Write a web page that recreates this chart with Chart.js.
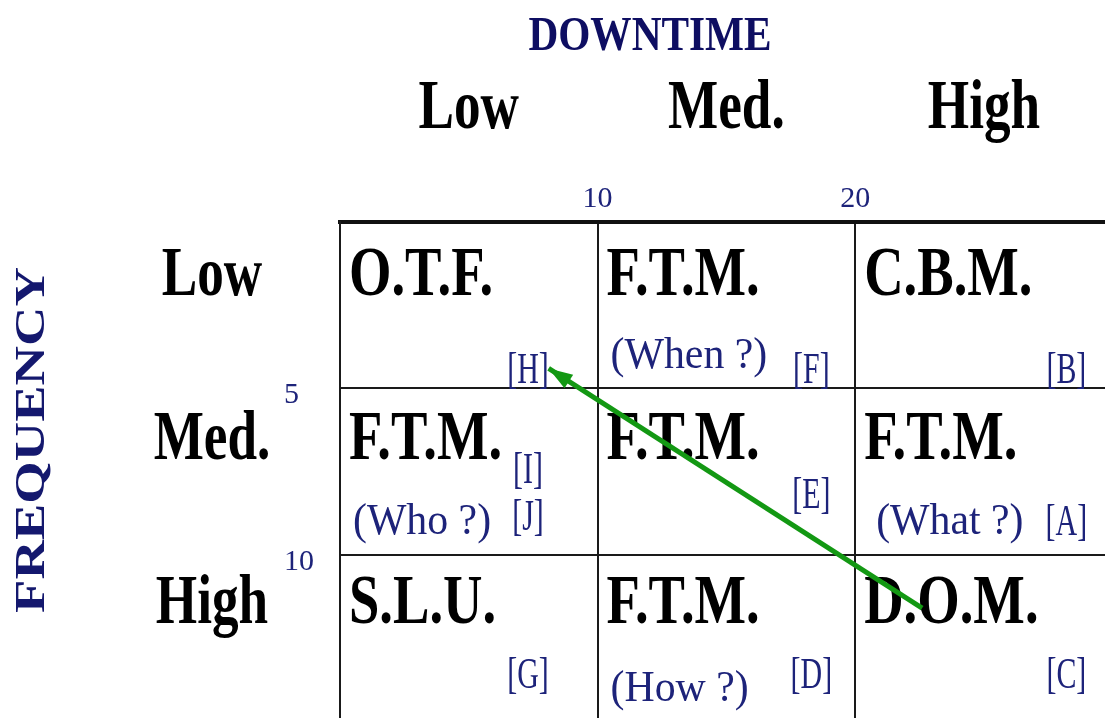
<!DOCTYPE html>
<html>
<head>
<meta charset="utf-8">
<script src="https://cdn.jsdelivr.net/npm/chart.js@4.4.7/dist/chart.umd.min.js"></script>
<style>
  html, body { margin: 0; padding: 0; background: #fff; }
  #wrap { width: 1105px; height: 718px; position: relative; }
</style>
</head>
<body>
<div id="wrap"><canvas id="grid"></canvas></div>
<script>
// Decision making grid: downtime (columns) vs frequency (rows)
const xTitle = 'DOWNTIME';
const yTitle = 'FREQUENCY';
const colLabels = ['Low', 'Med.', 'High'];
const rowLabels = ['Low', 'Med.', 'High'];
const xTicks = [10, 20];
const yTicks = [5, 10];
const cellActions = [
    ['O.T.F.', 'F.T.M.', 'C.B.M.'],
    ['F.T.M.', 'F.T.M.', 'F.T.M.'],
    ['S.L.U.', 'F.T.M.', 'D.O.M.']
];
const cellQuestions = [
    ['', '(When ?)', ''],
    ['(Who ?)', '', '(What ?)'],
    ['', '(How ?)', '']
];
const cellCodes = [
    [['[H]'], ['[F]'], ['[B]']],
    [['[I]', '[J]'], ['[E]'], ['[A]']],
    [['[G]'], ['[D]'], ['[C]']]
];
// movement of machine H from D.O.M. towards O.T.F. (downtime, frequency)
const arrowX = [22.6, 8.1];
const arrowY = [11.6, 4.4];

const NAVY = '#1d237a';
const GREEN = '#139813';
const SERIF = "'Liberation Serif', 'Times New Roman', serif";

function txt(ctx, s, x, y, font, color, align, sx) {
    ctx.save();
    ctx.translate(x, y);
    ctx.scale(sx, 1);
    ctx.font = font;
    ctx.fillStyle = color;
    ctx.textAlign = align;
    ctx.textBaseline = 'alphabetic';
    ctx.fillText(s, 0, 0);
    ctx.restore();
}

const gridText = {
    id: 'gridText',
    beforeDatasetsDraw(chart) {
        const ctx = chart.ctx;
        const xs = chart.scales.x, ys = chart.scales.y;
        const cx = [0, 10, 20, 30].map(v => xs.getPixelForValue(v));
        const ry = [0, 5, 10, 15].map(v => ys.getPixelForValue(v));
        const bold = 'bold 70px ' + SERIF;

        // titles
        txt(ctx, xTitle, 650, 50, 'bold 48px ' + SERIF, '#0e0e62', 'center', 0.86);
        ctx.save();
        ctx.translate(44, 440);
        ctx.rotate(-Math.PI / 2);
        ctx.scale(1.3, 1);
        ctx.font = 'bold 42px ' + SERIF;
        ctx.fillStyle = '#14186e';
        ctx.textAlign = 'center';
        ctx.fillText(yTitle, 0, 0);
        ctx.restore();

        colLabels.forEach((l, c) => txt(ctx, l, (cx[c] + cx[c + 1]) / 2, 128, bold, '#000', 'center', 0.76));
        rowLabels.forEach((l, r) => txt(ctx, l, 212, ry[r] + 73 - 2.5 * r, bold, '#000', 'center', 0.76));

        const codeFrac = [0.73, 0.83, 0.82];
        const codeDy = [[161, 161, 161], [95, 120, 147], [133, 133, 133]];
        for (let r = 0; r < 3; r++) {
            for (let c = 0; c < 3; c++) {
                const left = cx[c], top = ry[r];
                txt(ctx, cellActions[r][c], left + 9, top + 73 - 2.5 * r, bold, '#000', 'left', 0.78);
                if (cellQuestions[r][c]) {
                    txt(ctx, cellQuestions[r][c], left + 13 + (c === 2 ? 8 : 0), top + 146, '44px ' + SERIF, NAVY, 'left', 0.95);
                }
                const codes = cellCodes[r][c];
                const ccx = left + codeFrac[c] * (cx[c + 1] - left);
                codes.forEach((s, i) => {
                    txt(ctx, s, ccx, top + codeDy[r][c] + i * 47, '44px ' + SERIF, NAVY, 'center', 0.68);
                });
            }
        }
    },
    afterDatasetsDraw(chart) {
        const ctx = chart.ctx;
        const xs = chart.scales.x, ys = chart.scales.y;
        const x0 = xs.getPixelForValue(arrowX[0]), y0 = ys.getPixelForValue(arrowY[0]);
        const x1 = xs.getPixelForValue(arrowX[1]), y1 = ys.getPixelForValue(arrowY[1]);
        const a = Math.atan2(y1 - y0, x1 - x0);
        const len = 24, hw = 8;
        ctx.save();
        ctx.fillStyle = GREEN;
        ctx.beginPath();
        ctx.moveTo(x1, y1);
        ctx.lineTo(x1 - len * Math.cos(a) + hw * Math.sin(a), y1 - len * Math.sin(a) - hw * Math.cos(a));
        ctx.lineTo(x1 - len * Math.cos(a) - hw * Math.sin(a), y1 - len * Math.sin(a) + hw * Math.cos(a));
        ctx.closePath();
        ctx.fill();
        ctx.restore();
    }
};

new Chart(document.getElementById('grid'), {
    type: 'scatter',
    data: {
        datasets: [{
            data: arrowX.map((x, i) => ({ x, y: arrowY[i] })),
            showLine: true,
            borderColor: GREEN,
            borderWidth: 5,
            pointRadius: 0,
            borderCapStyle: 'butt'
        }]
    },
    options: {
        responsive: true,
        maintainAspectRatio: false,
        animation: false,
        events: [],
        layout: { padding: { left: 284, top: 0, right: 0, bottom: 0 } },
        plugins: { legend: { display: false }, tooltip: { enabled: false } },
        scales: {
            x: {
                type: 'linear', position: 'top', min: 0, max: 29.7,
                afterBuildTicks: s => { s.ticks = xTicks.map(v => ({ value: v })); },
                afterFit: s => { s.height = 222; s.paddingLeft = 0; s.paddingRight = 0; },
                ticks: { color: NAVY, padding: 5, font: { family: SERIF, size: 30 } },
                grid: { color: '#1a1a1a', lineWidth: 2, drawTicks: false },
                border: { display: true, color: '#111', width: 4 }
            },
            y: {
                type: 'linear', position: 'left', reverse: true, min: 0, max: 14.9,
                afterBuildTicks: s => { s.ticks = yTicks.map(v => ({ value: v })); },
                afterFit: s => { s.width = 56; s.paddingTop = 0; s.paddingBottom = 0; },
                ticks: { color: NAVY, crossAlign: 'far', labelOffset: 7, font: { family: SERIF, size: 30 } },
                grid: { color: '#1a1a1a', lineWidth: 2, drawTicks: false },
                border: { display: true, color: '#1a1a1a', width: 2 }
            }
        }
    },
    plugins: [gridText]
});
</script>
</body>
</html>
